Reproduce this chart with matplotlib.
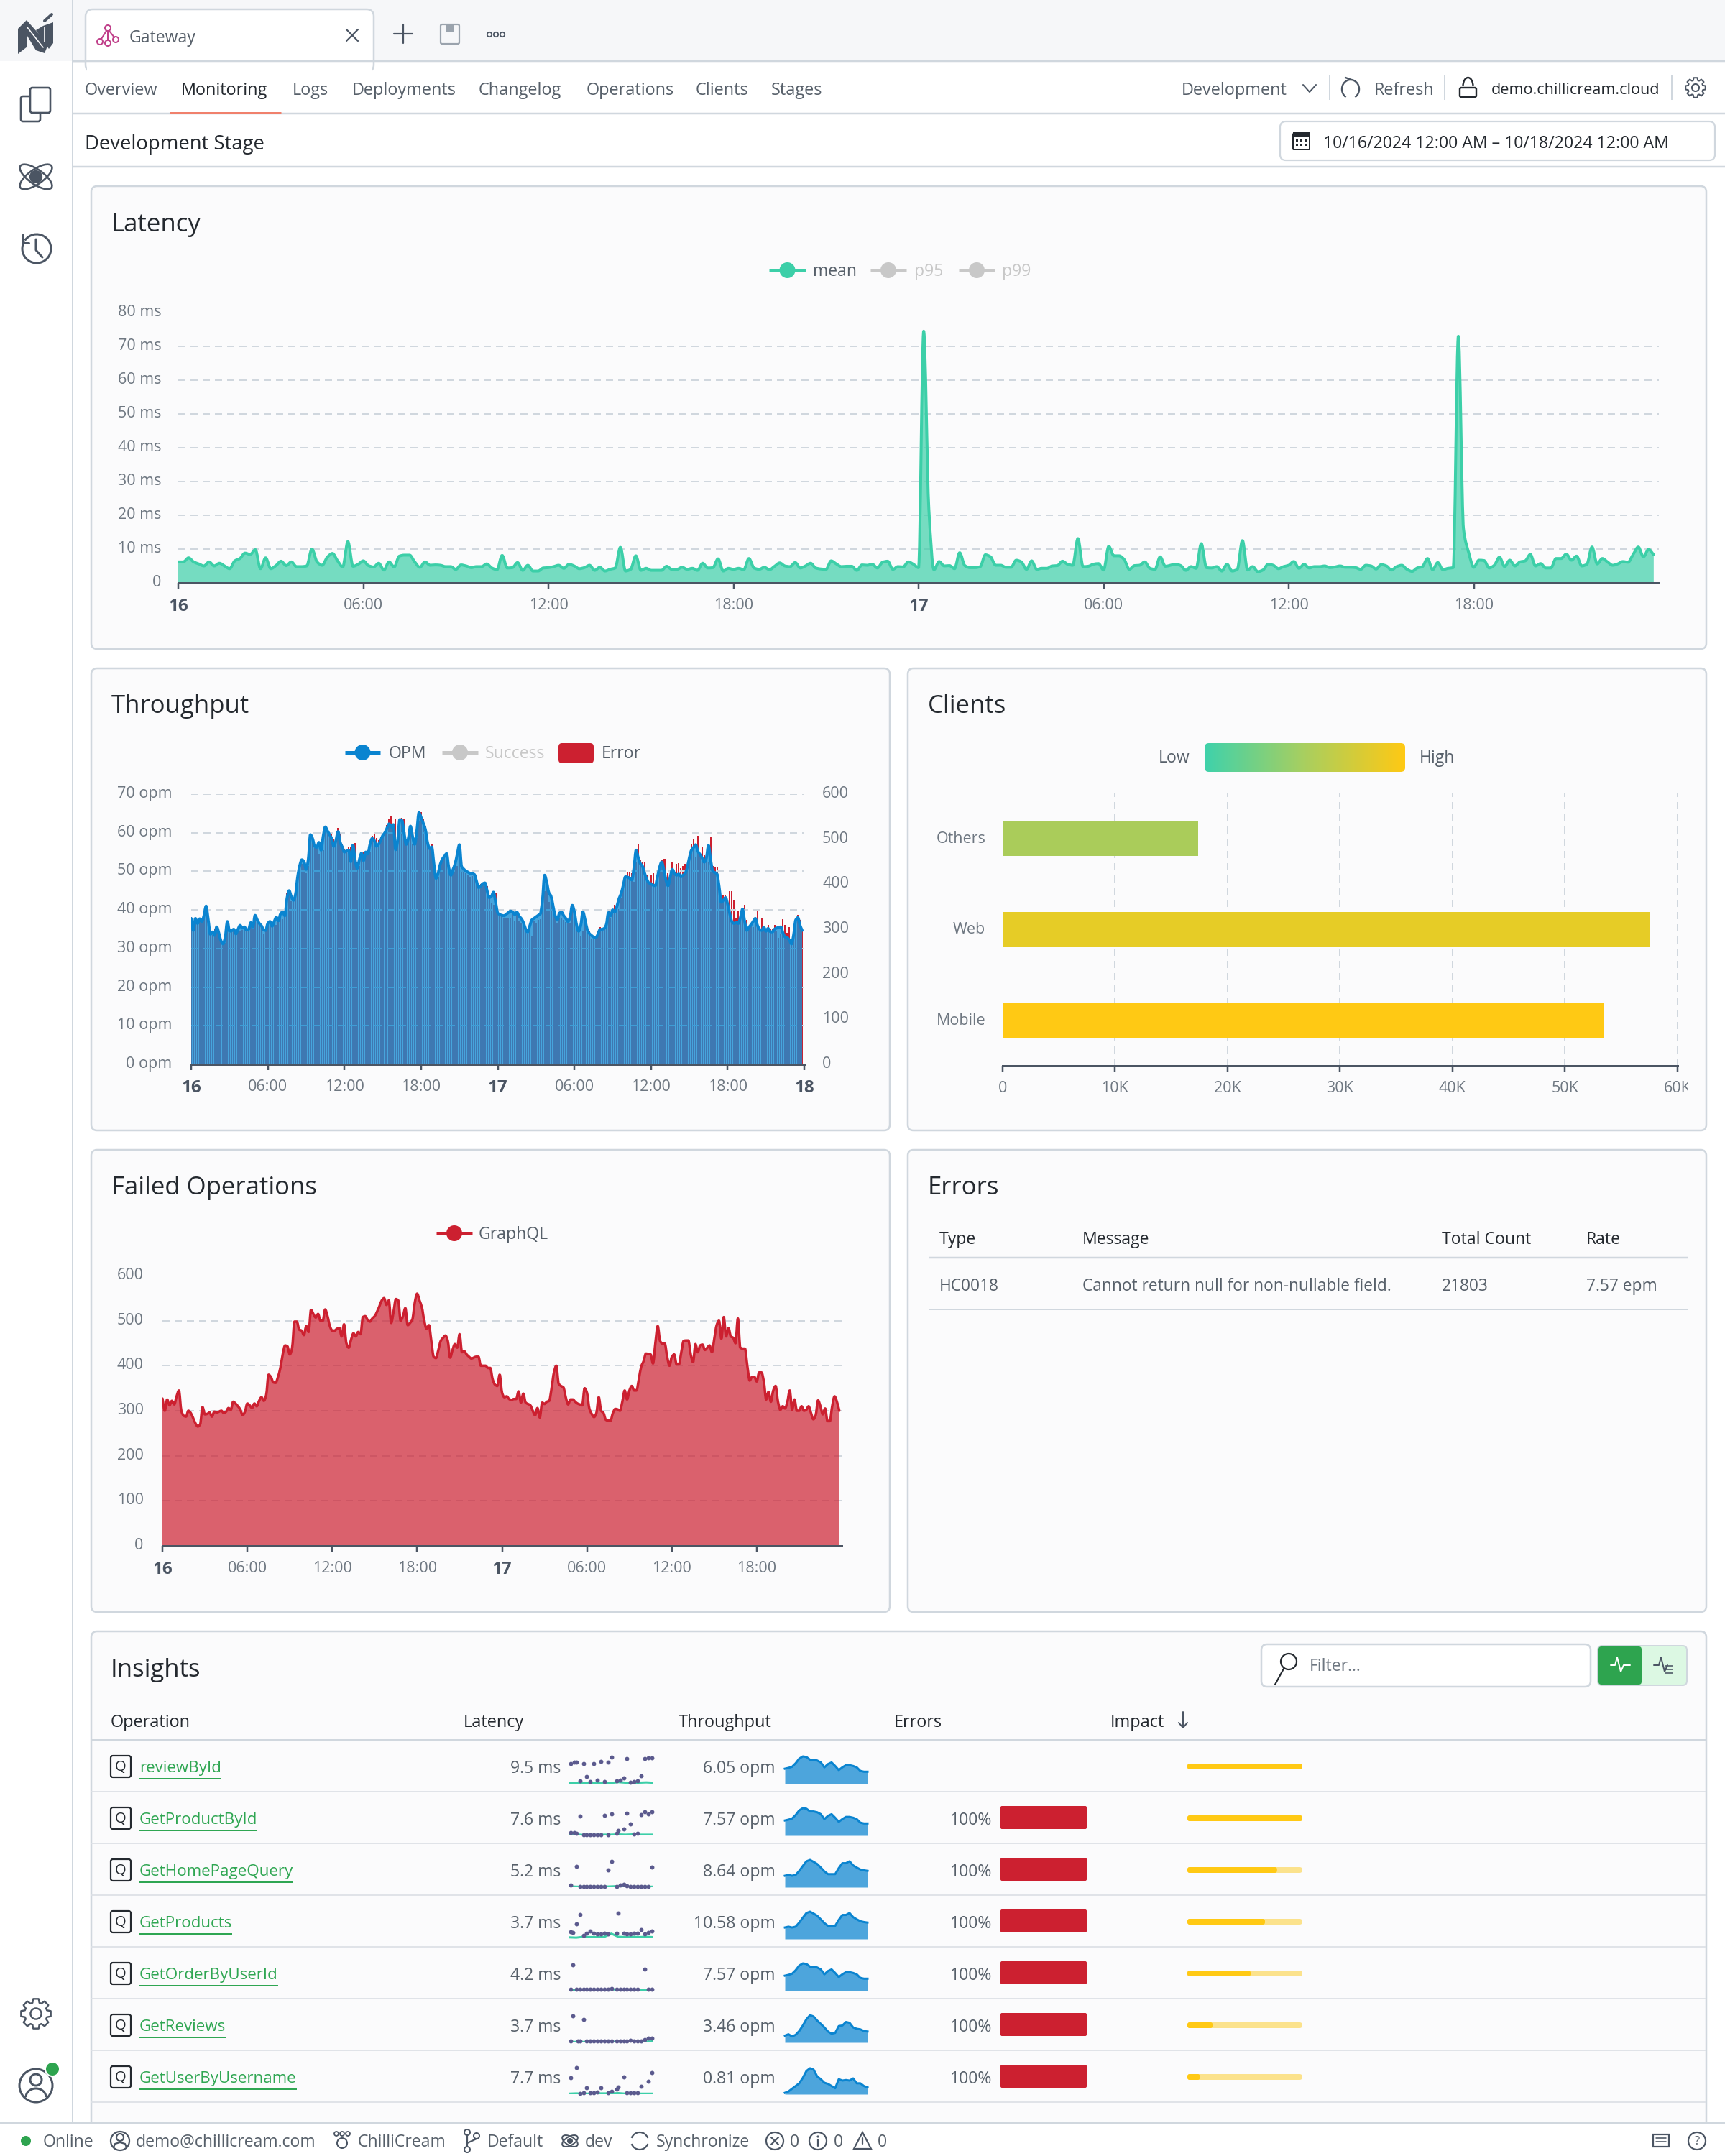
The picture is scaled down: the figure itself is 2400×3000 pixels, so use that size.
"""
Gateway monitoring dashboard

"""
import numpy as np
import matplotlib
matplotlib.use('Agg')
import matplotlib.pyplot as plt
from matplotlib.patches import FancyBboxPatch, Circle, Ellipse, Polygon, Rectangle, Arc, PathPatch
from matplotlib.path import Path
from matplotlib.colors import LinearSegmentedColormap
from matplotlib.transforms import Bbox, ScaledTranslation

# =============================================================================
#     Data
# =============================================================================

nav_labels = ['Overview', 'Monitoring', 'Logs', 'Deployments', 'Changelog',
              'Operations', 'Clients', 'Stages']

day_ticks = [0, 6, 12, 18, 24, 30, 36, 42, 48]
day_labels = ['16', '06:00', '12:00', '18:00', '17', '06:00', '12:00', '18:00', '18']

latency_ticks = [0, 10, 20, 30, 40, 50, 60, 70, 80]
latency_tick_labels = ['0', '10 ms', '20 ms', '30 ms', '40 ms', '50 ms', '60 ms', '70 ms', '80 ms']

# mean latency, one value per 10 minutes
latency_mean = [
    6.2, 6.2, 7.4, 6.2, 5.6, 5.0, 6.2, 5.0, 5.8, 5.0, 4.2, 6.5,
    7.2, 8.8, 8.4, 9.8, 4.2, 7.4, 4.2, 5.1, 6.4, 5.1, 6.2, 4.8,
    4.8, 5.0, 10.0, 6.2, 5.2, 7.6, 8.7, 6.5, 4.7, 12.2, 4.9, 5.5,
    6.5, 5.1, 4.7, 5.8, 3.8, 6.2, 4.7, 7.9, 8.2, 8.2, 6.2, 4.6,
    6.2, 5.2, 5.3, 5.2, 4.8, 4.8, 4.0, 5.3, 5.0, 4.5, 4.8, 4.8,
    5.6, 4.4, 3.9, 8.1, 4.4, 4.5, 6.0, 3.7, 5.2, 3.5, 3.5, 4.4,
    4.5, 4.8, 5.2, 4.3, 5.5, 5.0, 4.2, 4.5, 5.2, 3.7, 4.6, 3.5,
    4.0, 4.4, 10.5, 3.5, 4.0, 8.0, 3.7, 4.3, 3.7, 3.7, 3.7, 4.9,
    4.0, 4.0, 4.6, 4.0, 4.3, 3.7, 5.8, 4.4, 4.5, 7.1, 3.5, 4.3,
    4.0, 4.3, 3.9, 7.2, 4.4, 4.0, 4.6, 3.9, 4.9, 5.9, 5.0, 4.8,
    6.0, 4.4, 5.0, 5.8, 4.4, 4.1, 4.0, 6.5, 5.6, 4.8, 4.9, 4.9,
    3.7, 5.3, 5.2, 5.5, 4.4, 6.1, 6.4, 4.0, 4.8, 4.7, 6.2, 5.5,
    4.5, 74.5, 22.0, 3.9, 6.3, 5.0, 5.1, 4.2, 8.9, 5.1, 4.5, 4.5,
    4.8, 8.3, 7.7, 5.2, 5.2, 4.6, 4.6, 6.7, 6.2, 4.0, 6.5, 4.0,
    4.3, 4.3, 5.0, 5.1, 6.4, 5.5, 5.2, 13.1, 4.8, 4.9, 5.5, 5.7,
    3.8, 10.8, 8.0, 8.0, 6.9, 4.0, 5.1, 5.2, 6.2, 4.3, 4.0, 7.7,
    4.9, 5.2, 5.5, 5.1, 3.7, 4.8, 4.3, 11.6, 4.5, 4.4, 4.8, 3.5,
    5.5, 3.5, 4.0, 12.5, 3.8, 4.8, 3.3, 3.8, 5.5, 5.2, 4.2, 4.8,
    5.2, 6.3, 4.3, 5.5, 4.4, 4.8, 4.8, 5.0, 4.5, 4.7, 5.0, 4.6,
    4.6, 4.5, 4.0, 5.2, 5.0, 4.1, 5.4, 5.0, 3.8, 4.8, 5.2, 4.0,
    3.4, 4.4, 4.8, 7.2, 3.9, 6.0, 3.9, 4.3, 4.5, 73.0, 16.0, 9.0,
    4.6, 6.7, 6.6, 4.4, 5.2, 7.6, 4.8, 6.7, 5.0, 6.2, 6.5, 8.4,
    5.0, 5.7, 4.4, 4.4, 7.2, 7.2, 8.5, 6.7, 7.9, 5.0, 5.5, 10.6,
    5.6, 7.2, 6.2, 5.2, 5.6, 6.3, 6.1, 8.4, 10.6, 7.7, 9.9, 8.3,
]

opm_ticks = [0, 10, 20, 30, 40, 50, 60, 70]
opm_tick_labels = ['0 opm', '10 opm', '20 opm', '30 opm', '40 opm', '50 opm', '60 opm', '70 opm']

# operations per minute, one value per 10 minutes
opm_values = [
    37.8, 34.7, 37.8, 36.5, 37.7, 37.0, 38.5, 41.0, 37.5, 33.7, 34.3, 33.4,
    35.6, 34.0, 32.0, 31.2, 33.0, 37.0, 34.5, 34.6, 35.0, 33.8, 35.0, 36.0,
    35.3, 35.6, 34.8, 35.0, 36.7, 35.6, 38.6, 37.5, 36.5, 35.9, 34.9, 34.7,
    36.5, 37.0, 35.8, 37.0, 38.1, 37.2, 39.0, 39.5, 38.5, 43.0, 45.0, 43.5,
    42.5, 44.0, 48.5, 51.5, 53.0, 52.5, 50.5, 53.0, 59.5, 58.5, 56.5, 56.2,
    57.5, 55.5, 59.0, 61.5, 60.5, 59.5, 58.5, 56.5, 58.0, 60.3, 57.5, 56.3,
    55.0, 55.3, 55.5, 52.5, 56.8, 53.0, 50.8, 53.0, 54.7, 52.8, 55.0, 54.5,
    57.0, 58.5, 58.0, 56.5, 57.0, 58.0, 59.3, 60.0, 61.2, 62.3, 61.5, 62.1,
    55.6, 58.0, 63.4, 63.2, 60.0, 57.0, 58.5, 61.7, 59.0, 57.0, 60.5, 65.2,
    64.0, 62.5, 60.9, 57.5, 55.9, 56.3, 52.0, 48.2, 49.5, 51.8, 53.2, 53.9,
    54.6, 51.0, 49.0, 50.5, 52.0, 54.5, 56.9, 51.3, 50.6, 50.1, 49.8, 49.5,
    49.4, 49.2, 47.5, 45.8, 46.2, 46.8, 47.0, 45.0, 43.2, 43.5, 44.6, 42.0,
    39.2, 38.8, 38.6, 38.5, 38.9, 39.3, 39.7, 39.5, 38.8, 39.4, 38.4, 37.8,
    36.8, 35.2, 34.3, 35.8, 37.4, 37.8, 38.2, 38.6, 39.0, 42.5, 49.0, 47.2,
    44.5, 43.6, 41.0, 38.5, 37.4, 39.2, 39.4, 38.5, 37.8, 37.0, 38.2, 41.2,
    39.5, 36.2, 34.5, 36.0, 39.5, 37.5, 35.0, 33.9, 33.4, 33.0, 32.8, 33.6,
    34.9, 35.0, 35.2, 36.2, 39.3, 38.5, 40.0, 39.5, 41.0, 43.0, 44.3, 46.5,
    48.6, 48.5, 48.2, 47.8, 51.0, 55.5, 53.5, 52.0, 51.3, 49.5, 48.0, 47.0,
    46.8, 46.4, 46.3, 48.5, 51.0, 52.4, 50.5, 47.8, 46.3, 48.5, 50.5, 49.5,
    49.0, 49.3, 48.6, 49.0, 49.4, 51.0, 53.5, 55.5, 56.2, 56.9, 55.2, 54.4,
    53.5, 52.4, 53.5, 56.7, 53.0, 50.1, 49.7, 49.3, 46.0, 42.0, 42.5, 43.2,
    41.5, 39.0, 37.0, 36.5, 36.7, 36.5, 38.0, 40.2, 37.0, 34.7, 35.5, 36.2,
    37.0, 37.8, 36.0, 35.0, 34.7, 35.5, 34.5, 35.2, 34.4, 34.3, 35.0, 35.3,
    35.5, 35.6, 34.0, 33.0, 32.8, 32.2, 31.2, 33.5, 37.4, 38.0, 36.0, 34.7,
]

count_ticks = [0, 100, 200, 300, 400, 500, 600]

# failed GraphQL operations, one value per 10 minutes
failed_values = [
    327, 300, 325, 312, 322, 314, 332, 345, 300, 289, 287, 300,
    295, 284, 272, 265, 270, 308, 292, 293, 296, 287, 298, 296,
    298, 300, 295, 298, 306, 302, 320, 316, 310, 303, 290, 298,
    316, 312, 306, 316, 310, 322, 330, 322, 335, 380, 375, 363,
    362, 375, 395, 425, 445, 443, 425, 440, 498, 498, 480, 478,
    468, 488, 475, 524, 515, 507, 515, 500, 500, 525, 510, 488,
    478, 478, 482, 484, 465, 492, 450, 440, 458, 472, 465, 475,
    470, 508, 510, 502, 498, 505, 510, 520, 532, 545, 550, 535,
    545, 495, 520, 548, 545, 500, 510, 528, 490, 495, 503, 540,
    560, 545, 530, 500, 482, 490, 455, 420, 417, 435, 455, 462,
    467, 455, 418, 435, 448, 440, 470, 430, 432, 425, 420, 416,
    418, 420, 420, 400, 400, 400, 395, 395, 370, 358, 355, 380,
    340, 330, 332, 326, 324, 326, 326, 343, 318, 338, 318, 315,
    312, 300, 290, 306, 285, 318, 315, 320, 322, 350, 385, 400,
    360, 355, 352, 330, 314, 325, 325, 320, 316, 314, 312, 350,
    340, 305, 293, 286, 295, 330, 300, 295, 280, 278, 278, 295,
    304, 303, 300, 320, 345, 325, 345, 355, 345, 345, 370, 398,
    410, 427, 426, 425, 405, 450, 488, 455, 449, 449, 420, 400,
    420, 425, 403, 403, 430, 455, 456, 456, 425, 408, 448, 430,
    445, 447, 435, 440, 445, 430, 460, 490, 500, 460, 508, 465,
    484, 465, 462, 450, 505, 440, 438, 438, 400, 367, 375, 375,
    365, 385, 385, 365, 325, 342, 320, 345, 355, 320, 302, 310,
    305, 320, 345, 302, 325, 300, 300, 310, 300, 302, 310, 295,
    281, 290, 323, 310, 292, 305, 277, 277, 310, 332, 320, 300,
]

client_names = ['Mobile', 'Web', 'Others']
client_values = [53500, 57600, 17400]
client_colors = ['#ffc914', '#e6cc26', '#aacc5a']
client_ticks = [0, 10000, 20000, 30000, 40000, 50000, 60000]
client_tick_labels = ['0', '10K', '20K', '30K', '40K', '50K', '60K']

error_columns = ['Type', 'Message', 'Total Count', 'Rate']
error_row = ['HC0018', 'Cannot return null for non-nullable field.', '21803', '7.57 epm']

op_names = ['reviewById', 'GetProductById', 'GetHomePageQuery', 'GetProducts',
            'GetOrderByUserId', 'GetReviews', 'GetUserByUsername']
op_latency = ['9.5 ms', '7.6 ms', '5.2 ms', '3.7 ms', '4.2 ms', '3.7 ms', '7.7 ms']
op_throughput = ['6.05 opm', '7.57 opm', '8.64 opm', '10.58 opm', '7.57 opm', '3.46 opm', '0.81 opm']
op_errors = [None, '100%', '100%', '100%', '100%', '100%', '100%']
op_impact = [1.0, 1.0, 0.78, 0.675, 0.55, 0.22, 0.11]

# latency sparkline dots per operation (hour, relative latency)
dots_x = [
    [1, 3, 4, 8, 14, 18, 22, 24, 33, 43, 45, 47, 6, 10, 12, 16, 20, 27, 29, 31, 35, 37, 39, 41],
    [6, 20, 24, 33, 35, 41, 43, 45, 47, 1, 3, 4, 8, 10, 12, 14, 16, 18, 22, 27, 28, 31, 37, 39],
    [4, 24, 22, 47, 1, 6, 8, 10, 12, 14, 16, 18, 20, 27, 29, 31, 33, 35, 37, 39, 41, 43, 45],
    [6, 28, 4, 1, 2, 8, 10, 12, 14, 16, 18, 20, 22, 27, 31, 33, 35, 37, 39, 41, 43, 45, 47],
    [2, 43, 1, 4, 6, 8, 10, 12, 14, 16, 18, 20, 22, 24, 27, 29, 31, 33, 35, 37, 39, 45, 47],
    [2, 8, 1, 5, 6, 10, 12, 14, 16, 18, 20, 22, 24, 27, 29, 31, 33, 35, 37, 39, 41, 43, 45, 47],
    [4, 1, 31, 47, 45, 41, 28, 27, 24, 22, 18, 16, 14, 12, 10, 8, 6, 33, 35, 37, 39],
]
dots_y = [
    [.76, .80, .82, .75, .75, .84, .80, .99, .94, .95, .98, .98, .10, .28, .08, .14, .08, .11, .14, .22, .06, .08, .10, .30],
    [.72, .75, .80, .85, .42, .78, .88, .80, .88, .11, .11, .09, .04, .04, .04, .04, .04, .04, .04, .09, .20, .24, .05, .08],
    [.78, .96, .64, .76, .09, .03, .03, .03, .03, .03, .03, .03, .03, .04, .09, .10, .05, .04, .03, .03, .03, .03, .03],
    [.92, .98, .56, .26, .24, .14, .21, .29, .21, .19, .19, .21, .19, .21, .21, .19, .19, .21, .21, .34, .19, .24, .31],
    [.96, .81, .05, .05, .06, .05, .05, .05, .06, .05, .05, .05, .05, .09, .05, .05, .05, .05, .05, .06, .05, .05, .05],
    [.99, .86, .05, .05, .05, .05, .05, .05, .06, .05, .05, .05, .05, .05, .06, .05, .06, .07, .05, .05, .06, .10, .16, .16],
    [.99, .61, .66, .80, .49, .31, .27, .19, .11, .05, .24, .09, .05, .05, .24, .05, .03, .05, .05, .05, .05],
]

# latency sparkline line per operation, one value per 4 hours
spark_hours = [0, 4, 8, 12, 16, 20, 24, 28, 32, 36, 40, 44, 47]
spark_lat = [
    [.03, .03, .04, .04, .03, .04, .03, .06, .04, .03, .04, .05, .04],
    [.03, .04, .02, .02, .02, .03, .03, .04, .03, .04, .03, .03, .03],
    [.03, .02, .02, .02, .02, .02, .03, .04, .02, .02, .02, .02, .02],
    [.06, .05, .08, .07, .07, .08, .20, .08, .07, .08, .07, .08, .07],
    [.03, .04, .03, .03, .03, .03, .06, .03, .03, .03, .03, .03, .03],
    [.02, .02, .02, .02, .02, .02, .02, .03, .02, .02, .03, .03, .04],
    [.02, .03, .02, .02, .03, .03, .03, .04, .02, .02, .02, .02, .02],
]

# throughput sparkline per operation, one value per 2 hours
spark_tp = [
    [.55, .58, .62, .75, .92, 1.0, .98, .88, .88, .85, .78, .60, .72, .78, .65, .50, .60, .68, .68, .65, .60, .47, .44, .44],
    [.55, .58, .62, .75, .92, 1.0, .98, .88, .88, .85, .78, .60, .72, .78, .65, .50, .60, .68, .68, .65, .60, .47, .44, .44],
    [.42, .45, .42, .45, .60, .78, .95, 1.0, .93, .85, .72, .58, .48, .48, .48, .70, .88, .88, .95, .80, .72, .65, .62, .60],
    [.42, .45, .42, .45, .60, .78, .95, 1.0, .93, .85, .72, .58, .48, .48, .48, .70, .88, .88, .95, .80, .72, .65, .62, .60],
    [.55, .58, .62, .75, .92, 1.0, .98, .88, .88, .85, .78, .60, .72, .78, .65, .50, .60, .68, .68, .65, .60, .47, .44, .44],
    [.25, .30, .22, .28, .42, .62, .85, 1.0, .95, .80, .68, .55, .40, .32, .35, .60, .62, .75, .72, .55, .50, .48, .42, .40],
    [.05, .10, .20, .30, .40, .60, .85, .95, .90, .65, .55, .42, .38, .30, .22, .55, .50, .52, .50, .58, .40, .40, .30, .25],
]

# =============================================================================
#     Helpers
# =============================================================================

W, H = 2400, 3000
DARK = '#24292f'
TEXT = '#57606a'
MUTED = '#6e7781'
SLATE = '#4b5563'
GRID = '#d0d7de'
CARD = '#fbfbfc'
LINE = '#d0d7de'
TEAL = '#3ccfa8'
RED = '#cc2030'
BLUE = '#0a84d0'
AREA_BLUE = '#1a8fd4'
GREY = '#c8c8c8'
FONT = 'Open Sans'
TICK_SIZE = 15.5

plt.rcParams['font.family'] = [FONT, 'DejaVu Sans']
fig = plt.figure(figsize=(W / 100, H / 100), dpi=100, facecolor='white')

ui = fig.add_axes([0, 0, 1, 1], zorder=0)
ui.set_xlim(0, W)
ui.set_ylim(H, 0)
ui.axis('off')


def px(n):
    return n * 0.72


def label(x, y, s, size=16.6, color=TEXT, ha='left', weight='normal'):
    return ui.text(x, y + size * 0.12 + 1.6, s, fontsize=size, color=color, ha=ha, va='center', fontweight=weight)


def box(x0, y0, x1, y1, fc='none', ec='none', lw=2.0, r=8):
    p = FancyBboxPatch((x0, y0), x1 - x0, y1 - y0, boxstyle=f'round,pad=0,rounding_size={r}',
                       fc=fc, ec=ec, lw=px(lw))
    ui.add_patch(p)
    return p


def hline(y, x0, x1, color=LINE, lw=2.5):
    ui.plot([x0, x1], [y, y], color=color, lw=px(lw), solid_capstyle='butt')


def stroke(xs, ys, color=SLATE, lw=3):
    ui.plot(xs, ys, color=color, lw=px(lw), solid_capstyle='round', solid_joinstyle='round')


def ring(x, y, r, color=SLATE, lw=3, fc='none'):
    ui.add_patch(Circle((x, y), r, fc=fc, ec=color, lw=px(lw)))


def gear(x, y, r, color=SLATE, lw=2.4):
    # eight teeth, outline only
    pts = []
    for k in range(8):
        a = np.pi / 4 * k
        for da, rad in [(-0.30, 0.76), (-0.18, 1.0), (0.18, 1.0), (0.30, 0.76)]:
            pts.append((x + r * rad * np.cos(a + da), y + r * rad * np.sin(a + da)))
    ui.add_patch(Polygon(pts, closed=True, fc='none', ec=color, lw=px(lw), joinstyle='round'))
    ring(x, y, r * 0.36, color, lw)


def atom(x, y, r, color=SLATE):
    for ang in [35, 145]:
        ui.add_patch(Ellipse((x, y), r * 2.2, r * 0.85, angle=ang, fc='none', ec=color, lw=px(2.6)))
    ui.add_patch(Circle((x, y), r * 0.38, fc=color, ec='none'))


def legend_line(x0, x1, y, color):
    ui.plot([x0, x1], [y, y], color=color, lw=px(5), solid_capstyle='butt')
    ui.add_patch(Circle(((x0 + x1) / 2, y), 11, fc=color, ec='none'))


def chart_axes(x0, y0, x1, y1):
    ax = fig.add_axes([x0 / W, 1 - y1 / H, (x1 - x0) / W, (y1 - y0) / H], zorder=2)
    ax.patch.set_visible(False)
    for side in ['top', 'right', 'left']:
        ax.spines[side].set_visible(False)
    ax.spines['bottom'].set_color(SLATE)
    ax.spines['bottom'].set_linewidth(px(3))
    return ax


def style_days(ax, pad, n=9):
    ax.set_xlim(0, 48)
    ax.set_xticks(day_ticks[:n])
    ax.set_xticklabels(day_labels[:n], fontsize=TICK_SIZE, color=MUTED)
    ax.tick_params(axis='x', length=px(8), width=px(2.5), color=SLATE, pad=pad)
    for t in ax.get_xticklabels():
        if t.get_text() in ('16', '17', '18'):
            t.set_fontweight('bold')
            t.set_fontsize(17.5)
            t.set_color(SLATE)


def dashed_y(ax, ticks):
    ax.set_yticks(ticks)
    ax.grid(axis='y', color=GRID, lw=px(2), dashes=(5, 3.5))
    ax.grid(axis='x', visible=False)
    ax.set_axisbelow(True)


def raise_ylabels(ax, n=3):
    # the labels in the original sit a little above their grid line
    shift = ScaledTranslation(0, n / 100, fig.dpi_scale_trans)
    for t in ax.get_yticklabels():
        t.set_transform(t.get_transform() + shift)


def smooth_path(x, y, close=False):
    # draws the same points with rounded corners, like a smoothed web chart line
    x = np.asarray(x, dtype=float)
    y = np.asarray(y, dtype=float)
    dx = np.diff(x)
    s = np.diff(y) / dx
    m = np.zeros(len(y))
    for i in range(1, len(y) - 1):
        if s[i - 1] * s[i] > 0:
            m[i] = 2 * s[i - 1] * s[i] / (s[i - 1] + s[i])
    m[0] = s[0]
    m[-1] = s[-1]
    verts = [(x[0], y[0])]
    codes = [Path.MOVETO]
    for i in range(len(dx)):
        verts.append((x[i] + dx[i] / 3, y[i] + m[i] * dx[i] / 3))
        verts.append((x[i + 1] - dx[i] / 3, y[i + 1] - m[i + 1] * dx[i] / 3))
        verts.append((x[i + 1], y[i + 1]))
        codes += [Path.CURVE4] * 3
    if close:
        verts += [(x[-1], 0), (x[0], 0), (x[0], 0)]
        codes += [Path.LINETO, Path.LINETO, Path.CLOSEPOLY]
    return Path(verts, codes)


def area(ax, x, y, fill, fill_alpha, line, line_px):
    ax.add_patch(PathPatch(smooth_path(x, y, close=True), fc=fill, alpha=fill_alpha, lw=0))
    ax.add_patch(PathPatch(smooth_path(x, y), fc='none', ec=line, lw=px(line_px), joinstyle='round', capstyle='round'))


# =============================================================================
#     Window chrome
# =============================================================================

ui.add_patch(Rectangle((0, 0), W, 85, fc='#f6f7f9', ec='none'))
hline(85, 101, W)
hline(158, 101, W)
hline(232, 101, W)
ui.plot([101, 101], [0, 2953], color=LINE, lw=px(2))

# Tab
box(119, 13, 520, 100, fc='white', ec=LINE, lw=2.5, r=10)
ui.add_patch(Rectangle((121, 84), 397, 20, fc='white', ec='none'))
hline(85, 101, 119)
ring(150, 39, 4, '#c0408a', 2)
ring(139, 58, 4, '#c0408a', 2)
ring(150, 60, 4, '#c0408a', 2)
ring(161, 55, 4, '#c0408a', 2)
stroke([150, 150], [43, 56], '#c0408a', 2)
stroke([148, 141], [43, 54], '#c0408a', 2)
stroke([152, 159], [43, 52], '#c0408a', 2)
label(180, 49, 'Gateway', color=TEXT)
stroke([482, 498], [41, 57], SLATE, 2.2)
stroke([498, 482], [41, 57], SLATE, 2.2)
stroke([561, 561], [34, 60], SLATE, 2.2)
stroke([548, 574], [47, 47], SLATE, 2.2)
box(613, 34, 639, 61, ec='#9aa3ad', lw=2.2, r=2)
ui.add_patch(Rectangle((620, 34), 11, 10, fc='#9aa3ad', ec='none'))
for x in [681, 690, 699]:
    ring(x, 48, 3.2, SLATE, 1.8)

# Sidebar
ui.add_patch(Polygon([(25, 40), (37, 28), (67, 62), (62, 74), (50, 70), (38, 50), (38, 65), (25, 75)],
                     fc=SLATE, ec='none'))
ui.add_patch(Polygon([(50, 42), (60, 36), (74, 31), (74, 60), (68, 68)], fc=SLATE, ec='none'))
stroke([38, 60], [38, 66], 'white', 1.6)
stroke([62, 62], [38, 58], 'white', 1.6)
stroke([62, 72], [29, 20], SLATE, 4)
box(29, 134, 56, 169, ec=SLATE, lw=2.6, r=3)
box(42, 122, 70, 157, fc='white', ec=SLATE, lw=2.6, r=3)
atom(50, 246, 24)
ui.add_patch(Arc((51, 346), 40, 40, theta1=-60, theta2=210, ec=SLATE, lw=px(3)))
ui.add_patch(Arc((51, 346), 40, 40, theta1=215, theta2=300, ec=SLATE, lw=px(3)))
stroke([32, 32, 40], [326, 338, 338], SLATE, 3)
stroke([50, 50, 59], [333, 348, 358], SLATE, 3)
gear(50, 2802, 21)
ring(50, 2902, 23)
ring(50, 2894, 8)
ui.add_patch(Arc((50, 2918), 28, 24, theta1=180, theta2=360, ec=SLATE, lw=px(3)))
ui.add_patch(Circle((73, 2879), 10, fc='#2ea44f', ec='white', lw=px(2)))

# Nav row
nav_x = [118, 252, 407, 490, 666, 816, 968, 1073]
for x, name in zip(nav_x, nav_labels):
    label(x, 122, name, color=DARK if name == 'Monitoring' else TEXT, size=16.9)
ui.plot([236, 391], [156.5, 156.5], color='#f0806c', lw=px(3), solid_capstyle='butt')

label(1644, 122, 'Development', size=16.9)
stroke([1813, 1822, 1831], [118, 128, 118], SLATE, 2)
for x in [1850, 2010, 2326]:
    ui.plot([x, x], [106, 138], color=LINE, lw=px(2))
ui.add_patch(Arc((1879, 124), 24, 26, theta1=-240, theta2=60, ec=SLATE, lw=px(2.4)))
stroke([1872, 1880], [108, 111], SLATE, 2.4)
label(1912, 122, 'Refresh', size=16.9)
box(2031, 122, 2054, 135, ec=DARK, lw=2.4, r=2)
ui.add_patch(Arc((2042.5, 120), 14, 24, theta1=180, theta2=360, ec=DARK, lw=px(2.4)))
label(2075, 122, 'demo.chillicream.cloud', color=DARK, size=15.6)
gear(2359, 122, 14, lw=2)

# Stage row
label(118, 197, 'Development Stage', color=DARK, size=19.8, weight='medium')
box(1781, 169, 2386, 223, fc='white', ec=LINE, lw=2.2, r=8)
box(1799, 186, 1822, 208, ec=DARK, lw=2, r=1)
ui.add_patch(Rectangle((1799, 184), 23, 6, fc=DARK, ec='none'))
for cx in [1804, 1810, 1816]:
    for cy in [195, 201]:
        ui.add_patch(Rectangle((cx - 1.5, cy - 1.5), 3, 3, fc=DARK, ec='none'))
label(1841, 196, '10/16/2024 12:00 AM – 10/18/2024 12:00 AM', color=DARK, size=16.7)

# Cards
for x0, y0, x1, y1 in [(127, 259, 2374, 903), (127, 930, 1238, 1573), (1263, 930, 2374, 1573),
                       (127, 1600, 1238, 2243), (1263, 1600, 2374, 2243), (127, 2270, 2374, 2990)]:
    box(x0, y0, x1, y1, fc=CARD, ec=LINE, lw=2.5, r=8)

label(155, 308, 'Latency', color=DARK, size=25, weight='medium')
label(155, 978, 'Throughput', color=DARK, size=25, weight='medium')
label(1291, 978, 'Clients', color=DARK, size=25, weight='medium')
label(155, 1648, 'Failed Operations', color=DARK, size=25, weight='medium')
label(1291, 1648, 'Errors', color=DARK, size=25, weight='medium')
label(154, 2319, 'Insights', color=DARK, size=25, weight='medium')

# =============================================================================
#     Latency
# =============================================================================

legend_line(1070, 1121, 376, TEAL)
label(1131, 374, 'mean')
legend_line(1211, 1261, 376, GREY)
label(1272, 374, 'p95', color=GREY)
legend_line(1334, 1384, 376, GREY)
label(1394, 374, 'p99', color=GREY)

hours = np.arange(len(latency_mean)) / 6

ax = chart_axes(248, 435, 2308, 811)
area(ax, hours, latency_mean, TEAL, 0.7, TEAL, 4)
ax.set_ylim(0, 80)
dashed_y(ax, latency_ticks)
ax.set_yticklabels(latency_tick_labels, fontsize=TICK_SIZE, color=MUTED)
ax.tick_params(axis='y', length=0, pad=17)
raise_ylabels(ax)
style_days(ax, 9, n=8)

# =============================================================================
#     Throughput
# =============================================================================

legend_line(480, 529, 1047, BLUE)
label(541, 1045, 'OPM')
legend_line(615, 665, 1047, GREY)
label(675, 1045, 'Success', color=GREY)
box(777, 1034, 826, 1062, fc=RED, r=5)
label(837, 1045, 'Error')

tp_hours = np.arange(len(opm_values)) / 6

ax_tp = chart_axes(266, 1105, 1119, 1481)
ax_err = ax_tp.twinx()
ax_err.set_zorder(ax_tp.get_zorder() - 1)
ax_err.patch.set_visible(False)
for side in ['top', 'right', 'left', 'bottom']:
    ax_err.spines[side].set_visible(False)
# two pixels wide, so snapping keeps every bar the same width
bars = ax_err.bar(tp_hours, failed_values, width=0.1125, color=RED, lw=0)
for b in bars:
    b.set_snap(True)
ax_err.set_ylim(0, 600)
ax_err.set_yticks(count_ticks)
ax_err.grid(False)
ax_err.tick_params(axis='y', length=0, pad=18, labelsize=TICK_SIZE, labelcolor=MUTED)
raise_ylabels(ax_err)

area(ax_tp, tp_hours, opm_values, AREA_BLUE, 0.8, BLUE, 4)
ax_tp.set_ylim(0, 70)
dashed_y(ax_tp, opm_ticks)
ax_tp.set_yticklabels(opm_tick_labels, fontsize=TICK_SIZE, color=MUTED)
ax_tp.tick_params(axis='y', length=0, pad=19)
raise_ylabels(ax_tp)
style_days(ax_tp, 9)

# =============================================================================
#     Clients
# =============================================================================

label(1656, 1051, 'Low', ha='right')
label(1975, 1051, 'High')
cmap = LinearSegmentedColormap.from_list('heat', ['#3fd2ab', '#a9cf5f', '#ffc914'])
grad = ui.imshow(np.linspace(0, 1, 256).reshape(1, -1), extent=(1676, 1955, 1074, 1034),
                 cmap=cmap, aspect='auto', zorder=3)
grad.set_clip_path(box(1676, 1034, 1955, 1074, r=6))
ui.set_xlim(0, W)
ui.set_ylim(H, 0)

ax_c = chart_axes(1395, 1104, 2333.5, 1483)
ax_c.barh(client_names, client_values, height=0.38, color=client_colors, zorder=3)
ax_c.set_xlim(0, 60000)
ax_c.set_ylim(-0.5, 2.5)
ax_c.set_xticks(client_ticks)
ax_c.set_xticklabels(client_tick_labels, fontsize=TICK_SIZE, color=MUTED)
ax_c.grid(axis='x', color=GRID, lw=px(2), dashes=(5, 3.5))
ax_c.set_axisbelow(True)
ax_c.tick_params(axis='x', length=px(9), width=px(2.5), color=SLATE, pad=9)
ax_c.tick_params(axis='y', length=0, pad=17, labelsize=TICK_SIZE, labelcolor=MUTED)
raise_ylabels(ax_c, 2)
ax_c.get_xticklabels()[-1].set_clip_box(Bbox([[0, 0], [2348, H]]))
ax_c.get_xticklabels()[-1].set_clip_on(True)

# =============================================================================
#     Failed Operations
# =============================================================================

legend_line(607, 657, 1716, RED)
label(666, 1714, 'GraphQL')

ax_f = chart_axes(226, 1775, 1171, 2151)
area(ax_f, tp_hours, failed_values, RED, 0.7, RED, 3.5)
ax_f.set_ylim(0, 600)
dashed_y(ax_f, count_ticks)
ax_f.tick_params(axis='y', length=0, pad=19, labelsize=TICK_SIZE, labelcolor=MUTED)
raise_ylabels(ax_f)
style_days(ax_f, 9, n=8)

# =============================================================================
#     Errors
# =============================================================================

for x, name in zip([1307, 1506, 2006, 2207], error_columns):
    label(x, 1721, name, color=DARK)
hline(1750, 1292, 2348)
for x, val in zip([1307, 1506, 2006, 2207], error_row):
    label(x, 1786, val, size=16.4)
hline(1822, 1292, 2348, lw=2)

# =============================================================================
#     Insights
# =============================================================================

box(1755, 2288, 2213, 2347, fc='white', ec=LINE, lw=2.5, r=8)
ring(1793, 2312, 11, DARK, 2.2)
stroke([1786, 1774], [2322, 2344], DARK, 2.2)
label(1822, 2315, 'Filter...', color=MUTED)
box(2223, 2290, 2347, 2345, fc='#dcf8e3', ec=LINE, lw=2, r=6)
box(2224, 2291, 2284, 2344, fc='#2ea44f', r=4)
stroke([2241, 2247, 2250, 2255, 2259, 2268], [2317, 2317, 2306, 2326, 2317, 2317], 'white', 2)
stroke([2301, 2308, 2311, 2316, 2320], [2317, 2317, 2306, 2326, 2317], SLATE, 2)
for yy in [2318, 2323, 2328]:
    stroke([2317, 2327], [yy, yy], SLATE, 1.6)

for x, name in zip([154, 645, 944, 1244, 1545], ['Operation', 'Latency', 'Throughput', 'Errors', 'Impact']):
    label(x, 2393, name, color=DARK, size=16.9)
stroke([1646, 1646], [2382, 2404], SLATE, 2)
stroke([1640, 1646, 1652], [2397, 2404, 2397], SLATE, 2)
hline(2421, 127, 2374, lw=3)

row_top = 2421
row_h = 72
for i, name in enumerate(op_names):
    y0 = row_top + i * row_h
    yc = y0 + 36
    hline(y0 + row_h, 127, 2374, color='#dde1e6', lw=1.8)
    # Q badge
    box(154, yc - 14, 182, yc + 14 + 2, ec=DARK, lw=2.2, r=3)
    label(168, yc - 1, 'Q', color=DARK, ha='center', size=14.5)
    t = label(194, yc, name, color='#2fa652', size=16.1)
    fig.canvas.draw()
    bb = t.get_window_extent()
    hline(yc + 18, 194, bb.x1, color='#2fa652', lw=2)
    label(780, yc, op_latency[i], ha='right')
    label(1079, yc, op_throughput[i], ha='right')
    if op_errors[i]:
        label(1380, yc, op_errors[i], ha='right')
        box(1392, yc - 16, 1512, yc + 16, fc=RED, r=2)
    # impact bar
    box(1652, yc - 3, 1812, yc + 5, fc='#fbe28c', r=4)
    box(1652, yc - 3, 1652 + 160 * op_impact[i], yc + 5, fc='#ffc914', r=3)

    # latency sparkline
    sp = fig.add_axes([792 / W, 1 - (y0 + 61) / H, 117 / W, 37 / H], zorder=3)
    sp.patch.set_visible(False)
    sp.axis('off')
    sp.plot(spark_hours, spark_lat[i], color=TEAL, lw=px(3))
    sp.scatter(dots_x[i], dots_y[i], s=18, color='#5b5a8e', zorder=3, lw=0, clip_on=False)
    sp.set_xlim(0, 48)
    sp.set_ylim(0, 1)

    # throughput sparkline
    tp = fig.add_axes([1092 / W, 1 - (y0 + 61) / H, 115 / W, 38 / H], zorder=3)
    tp.patch.set_visible(False)
    tp.axis('off')
    xs = np.arange(len(spark_tp[i]))
    tp.fill_between(xs, spark_tp[i], color=BLUE, alpha=0.72, lw=0)
    tp.plot(xs, spark_tp[i], color=BLUE, lw=px(3), clip_on=False)
    tp.set_xlim(0, len(spark_tp[i]) - 1)
    tp.set_ylim(0, 1)

# =============================================================================
#     Status bar
# =============================================================================

ui.add_patch(Rectangle((0, 2953), W, 47, fc='white', ec='none', zorder=4))
ui.plot([0, W], [2953, 2953], color=LINE, lw=px(3), zorder=5)


def status(x, s):
    t = label(x, 2977, s)
    t.set_zorder(6)


ui.add_patch(Circle((36, 2979), 7, fc='#2ea44f', ec='none', zorder=6))
status(60, 'Online')
status(189, 'demo@chillicream.com')
status(498, 'ChilliCream')
status(678, 'Default')
status(814, 'dev')
status(913, 'Synchronize')
status(1099, '0')
status(1160, '0')
status(1221, '0')


def sring(x, y, r, lw=2.2):
    ui.add_patch(Circle((x, y), r, fc='white', ec=SLATE, lw=px(lw), zorder=6))


def sstroke(xs, ys, lw=2.2):
    ui.plot(xs, ys, color=SLATE, lw=px(lw), solid_capstyle='round', zorder=7)


sring(167, 2979, 13)
sring(167, 2974, 5)
sstroke([158, 160, 167, 174, 176], [2988, 2983, 2981, 2983, 2988])
for xx in [468, 476, 484]:
    sring(xx, 2969, 3, 1.8)
sring(476, 2982, 7, 2)
sring(650, 2967, 4, 2)
sring(650, 2991, 4, 2)
sring(663, 2972, 4, 2)
sstroke([650, 650], [2971, 2987])
sstroke([650, 663], [2982, 2976])
ui.add_patch(Ellipse((793, 2979), 24, 12, angle=30, fc='none', ec=SLATE, lw=px(2), zorder=7))
ui.add_patch(Ellipse((793, 2979), 24, 12, angle=150, fc='none', ec=SLATE, lw=px(2), zorder=7))
ui.add_patch(Circle((793, 2979), 4, fc=SLATE, ec='none', zorder=7))
ui.add_patch(Arc((890, 2979), 24, 24, theta1=200, theta2=340, ec=SLATE, lw=px(2.2), zorder=7))
ui.add_patch(Arc((890, 2979), 24, 24, theta1=20, theta2=160, ec=SLATE, lw=px(2.2), zorder=7))
sring(1078, 2979, 12)
sstroke([1073, 1083], [2974, 2984])
sstroke([1083, 1073], [2974, 2984])
sring(1138, 2979, 12)
sstroke([1138, 1138], [2977, 2986])
ui.add_patch(Circle((1138, 2973), 1.6, fc=SLATE, ec='none', zorder=7))
ui.add_patch(Polygon([(1200, 2967), (1212, 2990), (1188, 2990)], fc='white', ec=SLATE, lw=px(2.2), zorder=6))
sstroke([1200, 1200], [2975, 2983])
ui.add_patch(Rectangle((2300, 2970), 22, 17, fc='white', ec=SLATE, lw=px(2.2), zorder=6))
sstroke([2304, 2318], [2980, 2980], 1.6)
sstroke([2304, 2318], [2975, 2975], 1.6)
sring(2361, 2979, 12)
t = label(2361, 2977, '?', ha='center', size=12)
t.set_zorder(7)

plt.savefig('out.png', dpi=100, facecolor='white')
